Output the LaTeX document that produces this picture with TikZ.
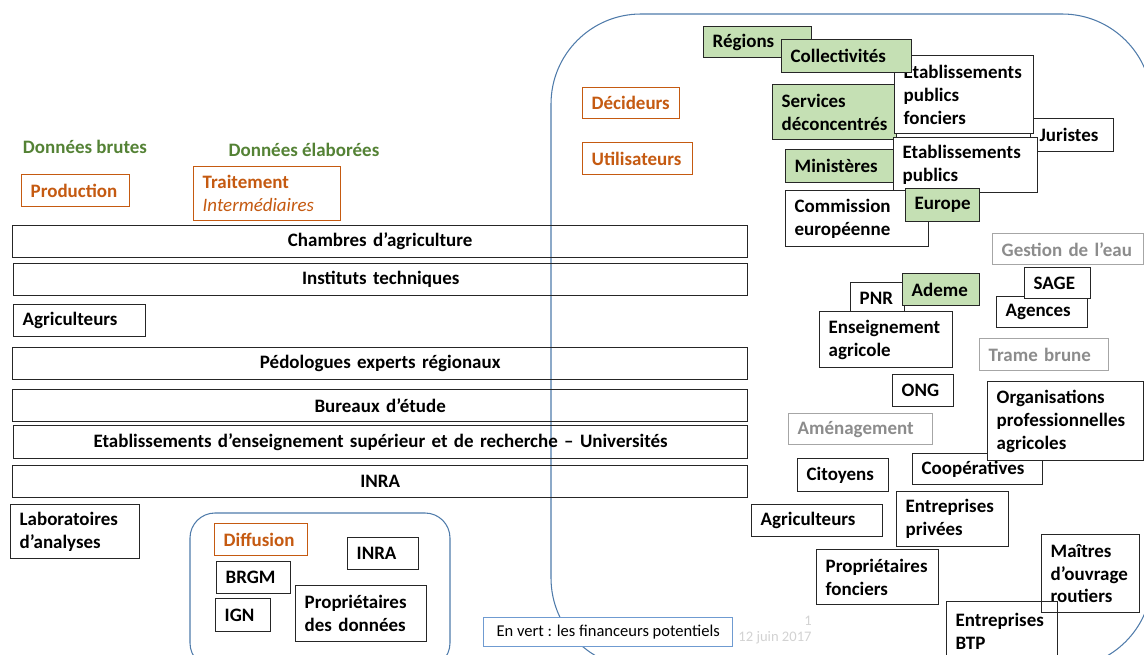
\documentclass[tikz,border=0pt]{standalone}
\usepackage{fontspec}
\setmainfont{Carlito}
\usepackage{tikz}
\usetikzlibrary{positioning}

\definecolor{vert}{HTML}{548235}
\definecolor{vertclair}{HTML}{C5E0B4}
\definecolor{orangetxt}{HTML}{C55A11}
\definecolor{gris}{HTML}{8C8C8C}
\definecolor{grisclair}{HTML}{A6A6A6}
\definecolor{bleu}{HTML}{4F7BAA}
\definecolor{bleuclair}{HTML}{6F9BD1}

\begin{document}
\begin{tikzpicture}[x=0.02cm,y=-0.02cm,
    every node/.style={font=\fontsize{10.8}{13}\selectfont\bfseries},
    base box/.style={draw=black!85,line width=0.8pt,anchor=north west,inner xsep=0.18cm,inner ysep=0pt,align=left},
    box/.style={base box,fill=white}, bar/.style={base box,align=center},
    finance/.style={base box,fill=vertclair}, role/.style={base box,draw=orangetxt,fill=white,text=orangetxt},
    theme/.style={base box,draw=grisclair,fill=white,text=gris},
    wh/.style 2 args={text width=(#1-18)*0.02cm,minimum height=#2*0.02cm}]

  \useasboundingbox (0,0) rectangle (1144,655);
  \clip (0,0) rectangle (1144,655);

  % grands cadres
  \draw[bleu,line width=0.6pt,rounded corners=1.8cm] (551,14) rectangle (1152,668);
  \draw[bleu,line width=0.6pt,rounded corners=0.5cm] (190,513) rectangle (450,668);

  % production et traitement
  \node[text=vert]          (brutes) at (85,147) {Données brutes};
  \node[text=vert]          (elab) at (304,150) {Données élaborées};
  \node[role,wh={108}{32}]  (prod) at (21,174) {Production};
  \node[role,wh={147}{54}]  (trait) at (193,166) {Traitement\\{\mdseries\itshape Intermédiaires}};

  \node[bar,wh={735}{32}]   (chambres) at (12,225) {Chambres d’agriculture};
  \node[bar,wh={734}{32}]   (instituts) at (13,263) {Instituts techniques};
  \node[box,wh={132}{32}]   (agri) at (13,304) {Agriculteurs};
  \node[bar,wh={735}{32}]   (pedo) at (12,347) {Pédologues experts régionaux};
  \node[bar,wh={735}{32}]   (bureaux) at (12,389) {Bureaux d’étude};
  \node[bar,wh={734}{33}]   (etab) at (13,425) {Etablissements d’enseignement supérieur et de recherche – Universités};
  \node[bar,wh={735}{32}]   (inra) at (12,465) {INRA};
  \node[box,wh={129}{54}]   (labo) at (10,504) {Laboratoires\\d’analyses};

  % diffusion
  \node[role,wh={93}{32}]   (diff) at (214,523) {Diffusion};
  \node[box,wh={74}{32}]    (brgm) at (216,561) {BRGM};
  \node[box,wh={55}{33}]    (ign) at (215,598) {IGN};
  \node[box,wh={71}{32}]    (inrab) at (347,537) {INRA};
  \node[box,wh={131}{56}]   (propdon) at (295,585) {Propriétaires\\des données};

  % decideurs et utilisateurs
  \node[role,wh={97}{31}]   (decid) at (582,87) {Décideurs};
  \node[role,wh={110}{32}]  (util) at (582,142) {Utilisateurs};

  \node[finance,wh={108}{31}] (regions) at (703,26) {Régions};
  \node[finance,wh={124}{55}] (services) at (772,84) {Services\\déconcentrés};
  \node[box,wh={83}{33}]      (juristes) at (1030,118) {Juristes};
  \node[finance,wh={110}{33}] (minist) at (785,149) {Ministères};
  \node[box,wh={139}{78}]     (epf) at (894,55) {Etablissements\\publics\\fonciers};
  \node[finance,wh={130}{33}] (collec) at (781,39) {Collectivités};
  \node[box,wh={144}{55}]     (ep) at (893,137) {Etablissements\\publics};
  \node[box,wh={143}{56}]     (commission) at (785,190) {Commission\\européenne};
  \node[finance,wh={74}{33}]  (europe) at (905,188) {Europe};

  \node[theme,wh={151}{31}]   (eau) at (992,233) {Gestion de l’eau};
  \node[box,wh={91}{31}]      (agences) at (996,296) {Agences};
  \node[box,wh={66}{31}]      (sage) at (1024,267) {SAGE};
  \node[box,wh={54}{31}]      (pnr) at (850,282) {PNR};
  \node[finance,wh={77}{32}]  (ademe) at (902,273) {Ademe};
  \node[box,wh={133}{56}]     (ensei) at (819,311) {Enseignement\\agricole};
  \node[theme,wh={129}{32}]   (trame) at (979,338) {Trame brune};
  \node[box,wh={61}{32}]      (ong) at (892,374) {ONG};
  \node[theme,wh={144}{31}]   (amenag) at (788,413) {Aménagement};
  \node[box,wh={91}{33}]      (citoyens) at (797,458) {Citoyens};
  \node[box,wh={130}{31}]     (coop) at (912,453) {Coopératives};
  \node[box,wh={156}{79}]     (opa) at (987,381) {Organisations\\professionnelles\\agricoles};
  \node[box,wh={112}{55}]     (privees) at (896,491) {Entreprises\\privées};
  \node[box,wh={131}{32}]     (agrib) at (751,504) {Agriculteurs};
  \node[box,wh={122}{55}]     (propfon) at (816,549) {Propriétaires\\fonciers};
  \node[box,wh={98}{78}]      (maitres) at (1041,534) {Maîtres\\d’ouvrage\\routiers};
  \node[base box,wh={111}{60}] (btp) at (946,601) {Entreprises\\BTP};

  % legende
  \node[base box,draw=bleuclair,fill=white,font=\fontsize{9.4}{11}\selectfont,align=center,
        minimum width=249*0.02cm,minimum height=29*0.02cm] (legende) at (483,617) {En vert : les financeurs potentiels};
  \node[text=gray!35,font=\fontsize{8.3}{10}\selectfont] (num) at (808,621) {1};
  \node[text=gray!35,font=\fontsize{8.3}{10}\selectfont] (date) at (775,638) {12 juin 2017};
\end{tikzpicture}
\end{document}
